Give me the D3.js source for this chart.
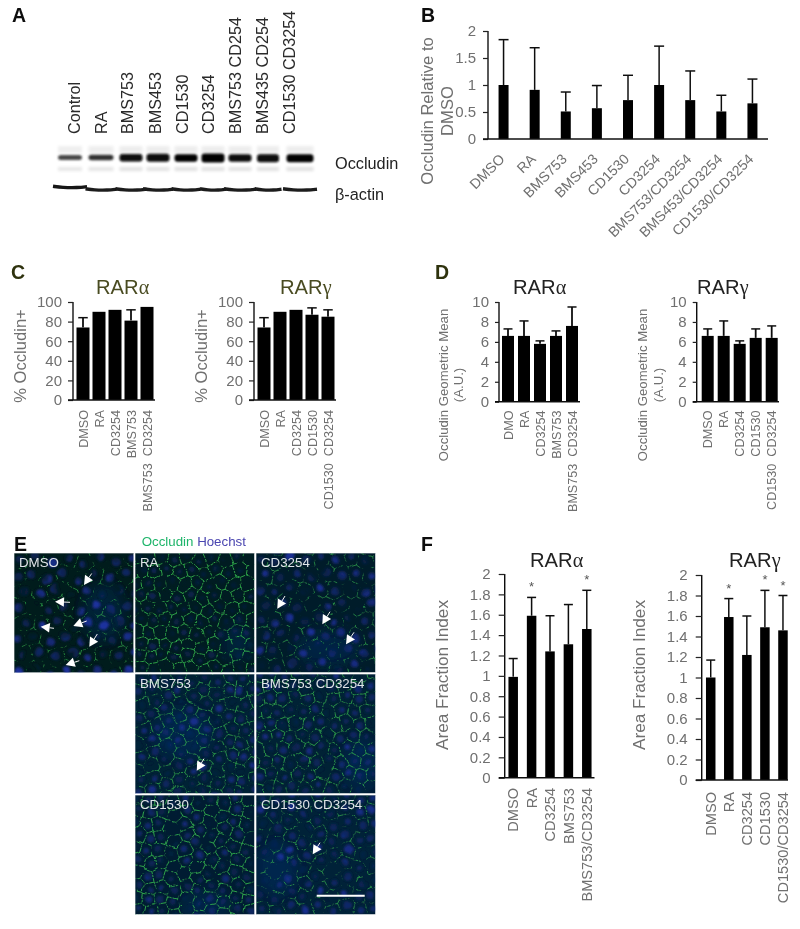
<!DOCTYPE html>
<html><head><meta charset="utf-8">
<script src="https://cdn.jsdelivr.net/npm/d3@7"></script>
<style>
html,body{margin:0;padding:0;background:#fff}
svg{display:block}
text{font-family:"Liberation Sans",Arial,sans-serif}
</style></head><body>
<svg id="fig" width="800" height="929" viewBox="0 0 800 929"></svg>
<script>
// ---------- data ----------
const blotLanes = ["Control","RA","BMS753","BMS453","CD1530","CD3254","BMS753 CD254","BMS435 CD254","CD1530 CD3254"];
const occludinBand = [0.72,0.8,0.97,0.95,0.98,1,0.95,0.97,1];
const occludinBandWidth = [24,25,23,23,23,23,23,22,27];
const occludinBandHeight = [5,5.5,7.5,8,7.5,9,7.5,8,8];
const actinBand = [0.92,0.88,0.9,0.9,0.88,0.88,0.9,0.9,0.9];
const actinLaneWidth = [31,28,28,27,26,23,29,24,31];

const catsB = ["DMSO","RA","BMS753","BMS453","CD1530","CD3254","BMS753/CD3254","BMS453/CD3254","CD1530/CD3254"];
const valsB = [1,0.91,0.51,0.57,0.72,1,0.72,0.51,0.66];
const topsB = [1.84,1.69,0.87,0.99,1.18,1.72,1.26,0.81,1.11];
const ticksB = [0,0.5,1,1.5,2];

const catsCa = ["DMSO","RA","CD3254","BMS753","BMS753\u00a0\u00a0CD3254"];
const valsCa = [74,90,92,81,95];
const topsCa = [84,90,92,92,95];
const catsCg = ["DMSO","RA","CD3254","CD1530","CD1530\u00a0\u00a0CD3254"];
const valsCg = [74,90,92,87,85];
const topsCg = [84,90,92,94,92];
const ticksC = [0,20,40,60,80,100];

const catsDa = ["DMO","RA","CD3254","BMS753","BMS753\u00a0\u00a0CD3254"];
const valsDa = [6.6,6.6,5.8,6.6,7.6];
const topsDa = [7.3,8.1,6.1,7.1,9.5];
const catsDg = ["DMSO","RA","CD3254","CD1530","CD1530\u00a0\u00a0CD3254"];
const valsDg = [6.6,6.6,5.8,6.4,6.4];
const topsDg = [7.3,8.1,6.1,7.3,7.6];
const ticksD = [0,2,4,6,8,10];

const catsFa = ["DMSO","RA","CD3254","BMS753","BMS753/CD3254"];
const valsFa = [0.99,1.59,1.24,1.31,1.46];
const topsFa = [1.17,1.77,1.59,1.70,1.84];
const starsFa = [false,true,false,false,true];
const catsFg = ["DMSO","RA","CD3254","CD1530","CD1530/CD3254"];
const valsFg = [1,1.59,1.22,1.49,1.46];
const topsFg = [1.17,1.77,1.60,1.85,1.80];
const starsFg = [false,true,false,true,true];
const ticksF = [0,0.2,0.4,0.6,0.8,1,1.2,1.4,1.6,1.8,2];

// micrograph content, read by eye: approximate cell centres on a 0-100 field
const cellCentres = [[5,6],[17,3],[31,8],[44,4],[56,9],[69,3],[82,7],[95,4],
[3,19],[14,17],[27,21],[39,16],[52,22],[64,17],[77,20],[90,16],
[8,31],[21,33],[33,29],[46,34],[58,30],[71,33],[84,29],[97,32],
[4,44],[16,42],[28,46],[41,43],[53,47],[66,42],[78,46],[91,43],
[9,56],[22,58],[35,54],[47,59],[60,55],[72,58],[85,55],[96,58],
[3,69],[15,67],[29,71],[41,67],[54,71],[66,68],[79,70],[92,67],
[8,82],[20,80],[34,83],[47,80],[59,84],[72,81],[84,83],[97,80],
[4,95],[16,93],[28,97],[42,94],[54,97],[67,94],[80,97],[92,94]];
const micrographs = [
 {name:"DMSO",col:0,row:0,flipX:false,flipY:false,swap:false,field:96,green:0.75,cut:-3.4,blue:0.8,r:4.4,bg:"#021a1c",haze:[[75,50,22,30]]},
 {name:"RA",col:1,row:0,flipX:true,flipY:false,swap:false,field:122,green:1,cut:-2.3,blue:0.34,r:3.2,bg:"#021c20",haze:[[85,75,15,20]]},
 {name:"CD3254",col:2,row:0,flipX:false,flipY:true,swap:false,field:100,green:0.75,cut:-3.2,blue:0.72,r:4,bg:"#031d2c",haze:[[60,80,30,16]]},
 {name:"BMS753",col:1,row:1,flipX:false,flipY:false,swap:true,field:118,green:0.85,cut:-2.6,blue:0.6,r:3.4,bg:"#032034",haze:[[40,50,30,25]]},
 {name:"BMS753 CD3254",col:2,row:1,flipX:true,flipY:true,swap:false,field:118,green:0.9,cut:-2.6,blue:0.6,r:3.4,bg:"#032034",haze:[[88,75,18,26]]},
 {name:"CD1530",col:1,row:2,flipX:true,flipY:false,swap:true,field:120,green:1,cut:-2.4,blue:0.52,r:3.3,bg:"#031f32",haze:[[60,92,24,12]]},
 {name:"CD1530 CD3254",col:2,row:2,flipX:false,flipY:true,swap:true,field:108,green:0.8,cut:-3,blue:0.68,r:3.7,bg:"#032038",haze:[[18,62,20,26]]}
];
// arrows on micrographs: tip x,y then tail x,y (page position from the reference)
const arrowSegments = [
 [84,585,91.7,573.5],[55,601.7,70,602.3],[40.7,626.7,54,628.3],[73.3,626,86.7,621],[89.3,646.7,97.3,634],[65.7,665,79.3,660.7],
 [277.3,608.7,285,596],[322.3,624.3,330,611.7],[346,644.3,354,632.3],
 [196.7,770.7,204,758.7],[312.7,854.3,320,842.7]];

// ---------- drawing ----------
const svg = d3.select("#fig");
const defs = svg.append("defs");
defs.append("filter").attr("id","soft").attr("x","-2%").attr("y","-2%").attr("width","104%").attr("height","104%")
  .append("feGaussianBlur").attr("stdDeviation",0.4);
const blurOf=(id,s)=>defs.append("filter").attr("id",id).attr("x","-50%").attr("y","-200%").attr("width","200%").attr("height","500%")
  .append("feGaussianBlur").attr("stdDeviation",s);
blurOf("b1",0.8);blurOf("b2",0.55);blurOf("b3",1.6);blurOf("haze",7);
const root = svg.append("g").attr("filter","url(#soft)");

function panelLetter(t,x,y,fill){root.append("text").attr("x",x).attr("y",y).attr("font-size",19.5).attr("font-weight","bold").attr("fill",fill||"#111").text(t);}
panelLetter("A",12,22);panelLetter("B",421,22);panelLetter("C",11,279,"#2f3210");panelLetter("D",435,279,"#2f3210");panelLetter("E",14,551);panelLetter("F",421,551);

// Panel A – blot
const laneX = d3.scaleOrdinal().domain(blotLanes).range([70,101,131,158,186,213,240,268,300]);
const labelX = d3.scaleOrdinal().domain(blotLanes).range([80,107,133,161,188,214,241,268,295]);
const gA = root.append("g");
gA.selectAll("text.lane").data(blotLanes).join("text").attr("class","lane")
  .attr("transform",d=>`translate(${labelX(d)},134) rotate(-90)`).attr("font-size",16.2).attr("fill","#2a2a2a").text(d=>d);
const shade = d3.scaleLinear().domain([0,1]).range(["#ffffff","#000000"]);
const curve = d3.line().curve(d3.curveBasis);
blotLanes.forEach((d,i)=>{
  const cx=laneX(d), w=occludinBandWidth[i], h=occludinBandHeight[i];
  gA.append("rect").attr("x",cx-w/2).attr("y",146).attr("width",w).attr("height",7).attr("fill",shade(0.05+0.02*occludinBand[i])).attr("filter","url(#b3)");
  gA.append("rect").attr("x",cx-w/2).attr("y",167).attr("width",w).attr("height",4).attr("fill",shade(0.03+0.09*occludinBand[i])).attr("filter","url(#b3)");
  gA.append("rect").attr("x",cx-w/2).attr("y",157.5-h/2+0.1*i).attr("width",w).attr("height",h).attr("rx",3).attr("fill",shade(occludinBand[i])).attr("filter","url(#b1)");
  const aw=actinLaneWidth[i], ay=i===0?187:189.5;
  gA.append("path").attr("d",curve([[cx-aw/2-1.5,ay-0.7],[cx-aw/4,ay+0.5],[cx+aw/4,ay+0.7],[cx+aw/2+1.5,ay-0.3]]))
    .attr("fill","none").attr("stroke",shade(actinBand[i])).attr("stroke-width",3.4).attr("filter","url(#b2)");
});
gA.append("text").attr("x",335).attr("y",169).attr("font-size",16.3).attr("fill","#222").text("Occludin");
gA.append("text").attr("x",335).attr("y",200).attr("font-size",16.3).attr("fill","#222").text("β-actin");

// bar charts
function barChart(o){
  const g = root.append("g");
  const x = d3.scaleBand().domain(o.cats).range(o.band);
  const y = d3.scaleLinear().domain([0,d3.max(o.ticks)]).range([o.bottom,o.top]);
  const ax = d3.axisLeft(y).tickValues(o.ticks).tickSize(o.tick).tickPadding(o.pad).tickFormat(d3.format("~g"));
  const ag = g.append("g").attr("transform",`translate(${o.axisX},0)`).call(ax);
  ag.select(".domain").attr("stroke","#111").attr("stroke-width",1.4).attr("d",`M0,${o.top}V${o.bottom}`);
  ag.selectAll(".tick line").attr("stroke","#222").attr("stroke-width",1.2);
  ag.selectAll(".tick text").attr("font-size",o.tickFont).attr("fill",o.grey).attr("font-family","Liberation Sans");
  g.selectAll("rect.bar").data(o.cats).join("rect").attr("class","bar")
    .attr("x",d=>x(d)+x.bandwidth()/2-o.barW/2).attr("width",o.barW)
    .attr("y",(d,i)=>y(o.vals[i])).attr("height",(d,i)=>o.bottom-y(o.vals[i])).attr("fill","#000");
  o.cats.forEach((d,i)=>{
    if(o.tops[i]<=o.vals[i]) return;
    const c=x(d)+x.bandwidth()/2;
    g.append("line").attr("x1",c).attr("x2",c).attr("y1",y(o.vals[i])).attr("y2",y(o.tops[i])).attr("stroke","#111").attr("stroke-width",o.errW);
    g.append("line").attr("x1",c-o.cap/2).attr("x2",c+o.cap/2).attr("y1",y(o.tops[i])).attr("y2",y(o.tops[i])).attr("stroke","#111").attr("stroke-width",1.5);
    if(o.stars&&o.stars[i]) g.append("text").attr("x",c).attr("y",y(o.tops[i])-o.starGap).attr("text-anchor","middle").attr("font-size",13).attr("fill","#555").text("*");
  });
  g.append("line").attr("x1",o.axisX-o.tick).attr("x2",o.lineEnd).attr("y1",o.bottom).attr("y2",o.bottom).attr("stroke","#111").attr("stroke-width",1.5);
  g.selectAll("text.cat").data(o.cats).join("text").attr("class","cat")
    .attr("text-anchor","end").attr("font-size",o.catFont).attr("fill",o.grey)
    .attr("transform",d=>{
      const c=x(d)+x.bandwidth()/2;
      return o.rot===-45?`translate(${c+2},${o.labelY}) rotate(-45)`:`translate(${c+o.catFont*0.36},${o.labelY}) rotate(-90)`;
    }).text(d=>d);
  o.yTitle.forEach(t=>{
    g.append("text").attr("text-anchor","middle").attr("font-size",t.size).attr("fill",o.grey)
      .attr("transform",`translate(${t.x},${t.y}) rotate(-90)`).text(t.text);
  });
  if(o.title){
    const tt=g.append("text").attr("x",o.title.x).attr("y",o.title.y).attr("font-size",o.title.size).attr("fill",o.title.fill);
    tt.append("tspan").text("RAR");
    tt.append("tspan").attr("font-family","Liberation Serif").text(o.title.sym);
  }
}
const grey="#6f6f6f";
barChart({cats:catsB,vals:valsB,tops:topsB,ticks:ticksB,band:[488,768],axisX:488,lineEnd:768,top:31,bottom:139,tick:5,pad:7,tickFont:15,barW:10,cap:10,errW:1.5,catFont:14.2,labelY:160,rot:-45,grey,
  yTitle:[{text:"Occludin Relative to",x:433,y:111,size:16.6},{text:"DMSO",x:453,y:111,size:16.6}]});
barChart({cats:catsCa,vals:valsCa,tops:topsCa,ticks:ticksC,band:[75,155],axisX:73,lineEnd:155,top:302,bottom:400,tick:5,pad:6,tickFont:15,barW:13,cap:9.5,errW:1.8,catFont:12.6,labelY:410,grey,
  yTitle:[{text:"% Occludin+",x:26,y:356,size:16.6}],title:{x:96,y:294,size:20.2,fill:"#4a4c22",sym:"α"}});
barChart({cats:catsCg,vals:valsCg,tops:topsCg,ticks:ticksC,band:[256,336],axisX:254,lineEnd:336,top:302,bottom:400,tick:5,pad:6,tickFont:15,barW:13,cap:9.5,errW:1.8,catFont:12.6,labelY:410,grey,
  yTitle:[{text:"% Occludin+",x:207,y:356,size:16.6}],title:{x:280,y:294,size:20.2,fill:"#4a4c22",sym:"γ"}});
barChart({cats:catsDa,vals:valsDa,tops:topsDa,ticks:ticksD,band:[500,580],axisX:499,lineEnd:580,top:302,bottom:401.7,tick:4,pad:6,tickFont:15,barW:12,cap:9,errW:1.8,catFont:12.6,labelY:410.5,grey,
  yTitle:[{text:"Occludin Geometric Mean",x:447.5,y:385,size:13.2},{text:"(A.U.)",x:463,y:385,size:13.2}],title:{x:513,y:294,size:20.2,fill:"#222",sym:"α"}});
barChart({cats:catsDg,vals:valsDg,tops:topsDg,ticks:ticksD,band:[699.7,779.7],axisX:696.7,lineEnd:779,top:302,bottom:401.7,tick:4,pad:6,tickFont:15,barW:12,cap:9,errW:1.8,catFont:12.6,labelY:410.5,grey,
  yTitle:[{text:"Occludin Geometric Mean",x:646.5,y:385,size:13.2},{text:"(A.U.)",x:662.5,y:385,size:13.2}],title:{x:697,y:294,size:20.2,fill:"#222",sym:"γ"}});
barChart({cats:catsFa,vals:valsFa,tops:topsFa,stars:starsFa,starGap:6,ticks:ticksF,band:[504,596],axisX:504.7,lineEnd:594.5,top:574,bottom:777.7,tick:6,pad:8,tickFont:15,barW:9.5,cap:9,errW:1.5,catFont:14.6,labelY:788,grey,
  yTitle:[{text:"Area Fraction Index",x:448,y:675,size:17.2}],title:{x:530,y:567,size:20.2,fill:"#222",sym:"α"}});
barChart({cats:catsFg,vals:valsFg,tops:topsFg,stars:starsFg,starGap:6,ticks:ticksF,band:[701.7,792],axisX:701.7,lineEnd:788,top:575,bottom:780,tick:6,pad:8,tickFont:15,barW:9.5,cap:9,errW:1.5,catFont:14.6,labelY:792,grey,
  yTitle:[{text:"Area Fraction Index",x:645,y:675,size:17.2}],title:{x:729,y:567,size:20.2,fill:"#222",sym:"γ"}});

// Panel E – micrographs
const colX=d3.scaleOrdinal().domain([0,1,2]).range([14,135,256]);
const rowY=d3.scaleOrdinal().domain([0,1,2]).range([553,674,795]);
const tileSize=119.5;
// cell field repeated once in each direction so that it covers a panel at any zoom
const repeatedCells = cellCentres.flatMap(c=>[[c[0],c[1]],[c[0]+100,c[1]],[c[0],c[1]+100],[c[0]+100,c[1]+100]]);
function tissueFilter(id,seed,scale,gain,cut,freq,blur){
  const f=defs.append("filter").attr("id",id).attr("x","-5%").attr("y","-5%").attr("width","110%").attr("height","110%").attr("color-interpolation-filters","sRGB");
  f.append("feTurbulence").attr("type","fractalNoise").attr("baseFrequency",0.06).attr("numOctaves",1).attr("seed",seed).attr("result","warp");
  f.append("feDisplacementMap").attr("in","SourceGraphic").attr("in2","warp").attr("scale",scale).attr("xChannelSelector","R").attr("yChannelSelector","G").attr("result","bent");
  f.append("feTurbulence").attr("type","fractalNoise").attr("baseFrequency",freq).attr("numOctaves",2).attr("seed",seed+40);
  f.append("feColorMatrix").attr("type","matrix").attr("values",`0 0 0 0 0  0 0 0 0 0  0 0 0 0 0  ${gain} 0 0 0 ${cut}`).attr("result","patchy");
  f.append("feComposite").attr("in","bent").attr("in2","patchy").attr("operator","in").attr("result","cutout");
  f.append("feGaussianBlur").attr("in","cutout").attr("stdDeviation",blur);
}
micrographs.forEach((m,idx)=>{
  const px=colX(m.col),py=rowY(m.row);
  const cid="clip"+idx;
  defs.append("clipPath").attr("id",cid).append("rect").attr("x",px).attr("y",py).attr("width",tileSize).attr("height",tileSize);
  tissueFilter("greenF"+idx,idx*3+2,6,7,m.cut,0.16,0.3);
  tissueFilter("blueF"+idx,idx*3+3,4,3,-0.9,0.05,0.9);
  const sx=d3.scaleLinear().domain(m.flipX?[m.field,0]:[0,m.field]).range([px,px+tileSize]);
  const sy=d3.scaleLinear().domain(m.flipY?[m.field,0]:[0,m.field]).range([py,py+tileSize]);
  const pts=repeatedCells.map(c=>m.swap?[sx(c[1]),sy(c[0])]:[sx(c[0]),sy(c[1])])
    .filter(p=>p[0]>px-14&&p[0]<px+tileSize+14&&p[1]>py-14&&p[1]<py+tileSize+14);
  const hx=d3.scaleLinear().domain([0,100]).range([px,px+tileSize]);
  const hy=d3.scaleLinear().domain([0,100]).range([py,py+tileSize]);
  const g=root.append("g").attr("clip-path",`url(#${cid})`);
  g.append("rect").attr("x",px).attr("y",py).attr("width",tileSize).attr("height",tileSize).attr("fill",m.bg);
  g.append("g").attr("filter","url(#haze)").selectAll("ellipse").data(m.haze).join("ellipse")
    .attr("cx",d=>hx(d[0])).attr("cy",d=>hy(d[1])).attr("rx",d=>d[2]).attr("ry",d=>d[3]).attr("fill","#17389c").attr("opacity",0.22);
  g.append("g").attr("filter",`url(#blueF${idx})`).selectAll("circle").data(pts).join("circle")
    .attr("cx",d=>d[0]).attr("cy",d=>d[1]).attr("r",(d,i)=>m.r*(0.8+0.05*(i%7)))
    .attr("fill","#2436b8").attr("opacity",(d,i)=>m.blue*(0.55+0.15*(i%4)));
  const vor=d3.Delaunay.from(pts).voronoi([px-14,py-14,px+tileSize+14,py+tileSize+14]);
  g.append("path").attr("d",vor.render()).attr("fill","none").attr("stroke","#35b84f")
    .attr("stroke-width",0.85).attr("stroke-opacity",m.green).attr("stroke-dasharray","5 1 2 1").attr("filter",`url(#greenF${idx})`);
  g.append("rect").attr("x",px).attr("y",py).attr("width",tileSize).attr("height",tileSize).attr("fill","none").attr("stroke","#c7cfd2").attr("stroke-width",0.8);
  root.append("text").attr("x",px+5).attr("y",py+13.7).attr("font-size",13.3).attr("fill","#dfe5e8").text(m.name);
});
const gE=root.append("g");
const et=gE.append("text").attr("x",141.7).attr("y",546).attr("font-size",13.3);
et.append("tspan").attr("fill","#1fb56a").text("Occludin ");
et.append("tspan").attr("fill","#4a45b0").text("Hoechst");
arrowSegments.forEach(([tx,ty,bx,by])=>{
  const ang=Math.atan2(by-ty,bx-tx), L=9, W=4.8;
  const hx=tx+L*Math.cos(ang), hy=ty+L*Math.sin(ang);
  gE.append("line").attr("x1",hx).attr("y1",hy).attr("x2",bx).attr("y2",by).attr("stroke","#f2f2f2").attr("stroke-width",1);
  gE.append("path").attr("d",d3.line()([[tx,ty],[hx-W*Math.sin(ang),hy+W*Math.cos(ang)],[hx+W*Math.sin(ang),hy-W*Math.cos(ang)]])+"Z").attr("fill","#fff");
});
gE.append("line").attr("x1",316.7).attr("x2",364.7).attr("y1",895.7).attr("y2",895.7).attr("stroke","#fff").attr("stroke-width",2);
</script>
</body></html>
